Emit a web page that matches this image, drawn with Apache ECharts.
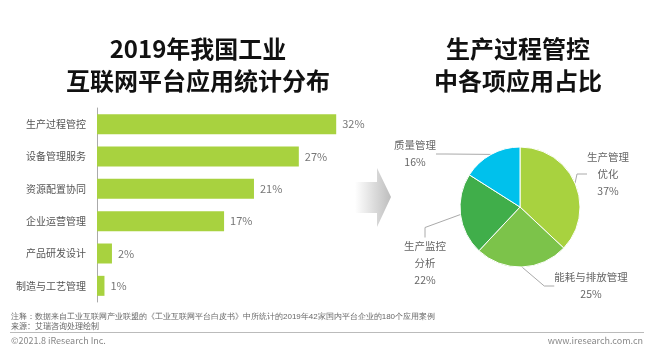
<!DOCTYPE html>
<html><head><meta charset="utf-8">
<script src="https://cdn.jsdelivr.net/npm/echarts@6/dist/echarts.min.js"></script>
<style>html,body{margin:0;padding:0;background:#fff}#c{width:657px;height:358px}</style>
</head><body><div id="c"></div>
<script>
var barCategories = ['生产过程管控','设备管理服务','资源配置协同','企业运营管理','产品研发设计','制造与工艺管理'];
var barValues = [32, 27, 21, 17, 2, 1];
var pieNames = ['生产管理\n优化','能耗与排放管理','生产监控\n分析','质量管理'];
var pieValues = [37, 25, 22, 16];
var pieColors = ['#a8d23f','#7cc34a','#40ae4a','#00c1ec'];
var labelSpots = [[608,174],[591,286],[425,263],[415,154]];

var FONT = '"Noto Sans CJK SC", "Noto Sans", sans-serif';
var chart = echarts.init(document.getElementById('c'), null, {renderer:'canvas'});
chart.setOption({
  backgroundColor:'#fff',
  textStyle:{fontFamily:FONT},
  animation:false,
  title:[
    {text:'2019年我国工业\n互联网平台应用统计分布', left:193, top:28, textAlign:'center',
     textStyle:{fontSize:24, fontWeight:'bold', color:'#111', lineHeight:32, fontFamily:FONT}},
    {text:'生产过程管控\n中各项应用占比', left:513, top:28, textAlign:'center',
     textStyle:{fontSize:24, fontWeight:'bold', color:'#111', lineHeight:32, fontFamily:FONT}}
  ],
  grid:{left:97, top:108, width:299, height:194},
  xAxis:{type:'value', min:0, max:40, show:false},
  yAxis:{type:'category', data:barCategories, inverse:true,
    axisLine:{show:true, lineStyle:{color:'#aaa', width:1}},
    axisTick:{show:false},
    axisLabel:{fontSize:10, color:'#555', margin:11, fontFamily:FONT}},
  series:[
    {type:'bar', data:barValues, barWidth:20, itemStyle:{color:'#a8d23f'},
     label:{show:true, position:'right', distance:6, formatter:'{c}%', fontSize:11, color:'#777', fontFamily:FONT}},
    {type:'pie', center:[520,207], radius:60, startAngle:90, clockwise:true,
     data:pieNames.map(function(n,i){return {name:n, value:pieValues[i], itemStyle:{color:pieColors[i]}};}),
     itemStyle:{borderColor:'#fff', borderWidth:1},
     label:{show:true, formatter:'{b}\n{c}%', fontSize:10.5, color:'#666', lineHeight:17, align:'center', fontFamily:FONT},
     labelLine:{show:true, length:10, length2:10, lineStyle:{color:'#aaa', width:1}},
     labelLayout:function(p){var s=labelSpots[p.dataIndex];return {x:s[0], y:s[1], align:'center', verticalAlign:'middle'};}
    }
  ],
  graphic:[
    {type:'polygon', shape:{points:[[355,182],[377,182],[377,168],[391,197],[377,227],[377,213],[355,213]]},
     style:{fill:new echarts.graphic.LinearGradient(0,0,1,0,[{offset:0,color:'#ffffff'},{offset:1,color:'#bdbdbd'}])}},
    {type:'text', left:11, top:313, style:{text:'注释：数据来自工业互联网产业联盟的《工业互联网平台白皮书》中所统计的2019年42家国内平台企业的180个应用案例', fontSize:8, fill:'#666', font:'8px '+FONT}},
    {type:'text', left:11, top:322, style:{text:'来源：艾瑞咨询处理绘制', fill:'#666', font:'8px '+FONT}},
    {type:'line', shape:{x1:10, y1:332.5, x2:644, y2:332.5}, style:{stroke:'#bbb', lineWidth:1}},
    {type:'text', left:11, top:336, style:{text:'©2021.8 iResearch Inc.', fill:'#888', font:'9px '+FONT}},
    {type:'text', right:14, top:336, style:{text:'www.iresearch.com.cn', fill:'#888', font:'9px '+FONT}}
  ]
});
</script></body></html>
